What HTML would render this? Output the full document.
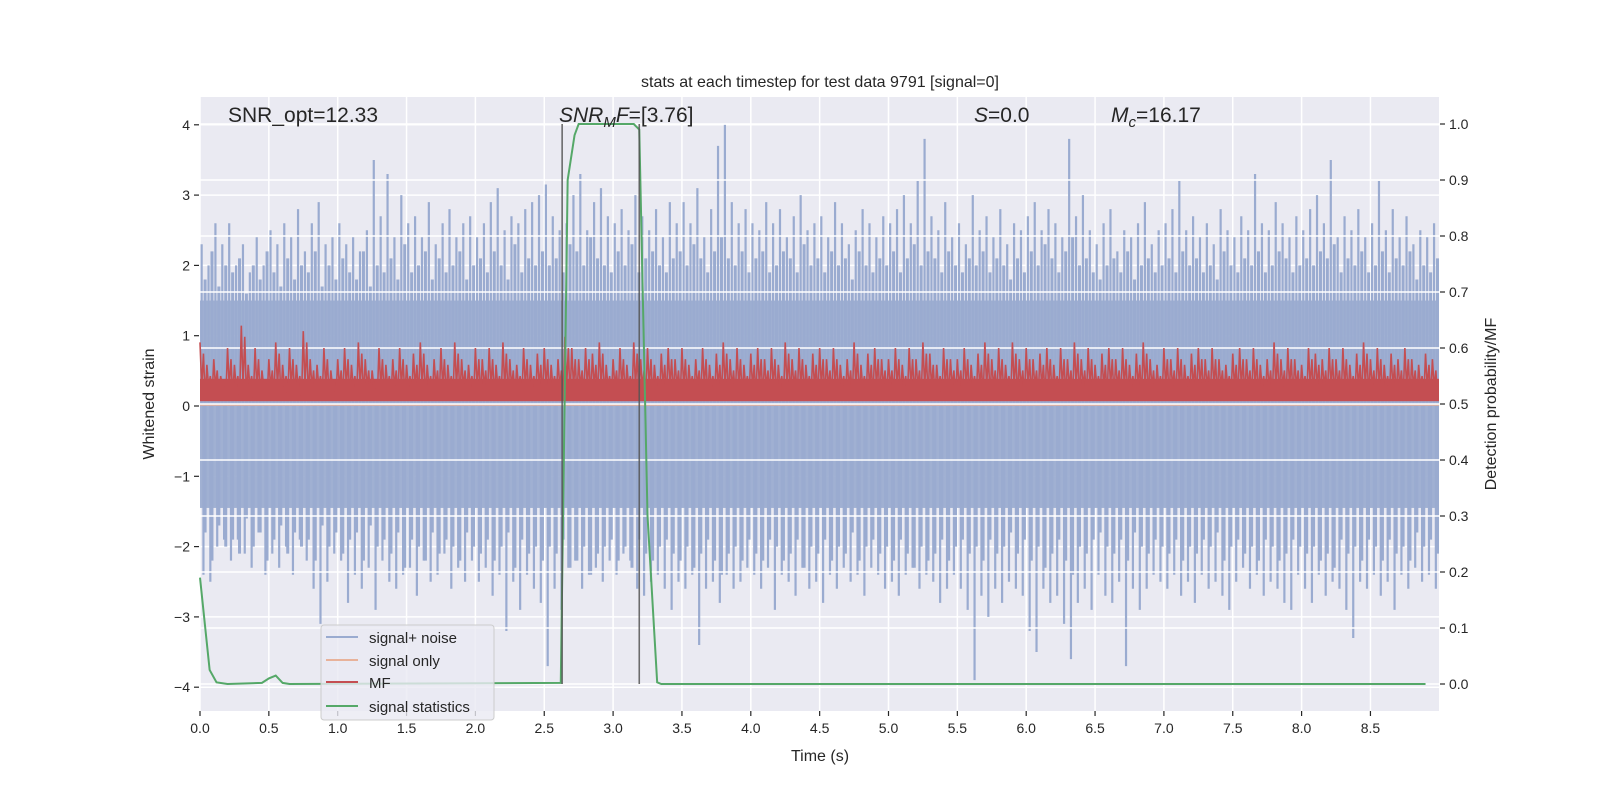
<!DOCTYPE html>
<html><head><meta charset="utf-8"><style>
html,body{margin:0;padding:0;background:#fff;}
svg{display:block;font-family:"Liberation Sans","DejaVu Sans",sans-serif;}
</style></head><body>
<svg id="chart" width="1600" height="800" viewBox="0 0 1600 800">
<rect x="0" y="0" width="1600" height="800" fill="#ffffff"/>
<rect x="200" y="97" width="1239" height="614" fill="#eaeaf2"/>
<g id="gridL"></g>
<g id="blue"></g>
<g id="gridR"></g>
<g id="red"></g>
<g id="green"></g>
<g id="vlines"></g>
<g id="axes"></g>
<text x="820" y="87" font-size="16" text-anchor="middle" fill="#262626">stats at each timestep for test data 9791 [signal=0]</text>
<text x="228" y="122" font-size="21" fill="#262626">SNR_opt=12.33</text>
<text x="559" y="122" font-size="21" fill="#262626"><tspan font-style="italic">SNR</tspan><tspan font-style="italic" font-size="15" dy="5">M</tspan><tspan font-style="italic" dy="-5">F</tspan>=[3.76]</text>
<text x="974" y="122" font-size="21" fill="#262626"><tspan font-style="italic">S</tspan>=0.0</text>
<text x="1111" y="122" font-size="21" fill="#262626"><tspan font-style="italic">M</tspan><tspan font-style="italic" font-size="15" dy="5">c</tspan><tspan dy="-5">=16.17</tspan></text>
<text x="820" y="761" font-size="16" text-anchor="middle" fill="#262626">Time (s)</text>
<text x="0" y="0" font-size="16" text-anchor="middle" fill="#262626" transform="translate(154,404) rotate(-90)">Whitened strain</text>
<text x="0" y="0" font-size="16" text-anchor="middle" fill="#262626" transform="translate(1496,404) rotate(-90)">Detection probability/MF</text>
<g>
<rect x="321" y="625" width="173" height="95" rx="3" fill="#eaeaf2" fill-opacity="0.8" stroke="#cccccc"/>
<line x1="326" y1="637" x2="358" y2="637" stroke="#9aabd0" stroke-width="2"/>
<text x="369" y="643" font-size="15" fill="#262626">signal+ noise</text>
<line x1="326" y1="660" x2="358" y2="660" stroke="#e8b29a" stroke-width="2"/>
<text x="369" y="666" font-size="15" fill="#262626">signal only</text>
<line x1="326" y1="682" x2="358" y2="682" stroke="#c44e52" stroke-width="2"/>
<text x="369" y="688" font-size="15" fill="#262626">MF</text>
<line x1="326" y1="706" x2="358" y2="706" stroke="#55a868" stroke-width="2"/>
<text x="369" y="712" font-size="15" fill="#262626">signal statistics</text>
</g>
</svg>
<script>
const step = 0.05;
const upperPeaks = [2.3,2.0,2.6,2.3,2.6,2.0,2.3,1.9,2.4,2.0,
2.5,2.3,2.6,2.4,2.8,2.2,2.6,2.9,2.3,2.4,
2.6,2.3,2.4,2.2,2.5,3.5,2.7,3.3,2.4,3.0,
2.6,2.7,2.4,2.9,2.3,2.6,2.8,2.4,2.6,2.7,
2.4,2.6,2.9,3.1,2.5,2.7,2.6,2.8,2.9,3.0,
3.15,2.7,2.5,2.6,3.0,3.3,2.5,2.9,3.1,2.7,
2.6,2.8,2.5,3.0,2.7,2.5,2.8,2.4,2.9,2.6,
2.9,2.6,3.1,2.4,2.8,3.7,4.0,2.9,2.6,2.8,
2.6,2.5,2.9,2.6,2.8,2.4,2.7,3.0,2.5,2.6,
2.7,2.4,2.9,2.6,2.3,2.5,2.8,2.6,2.4,2.7,
2.6,2.8,3.0,2.6,3.2,3.8,2.7,2.5,2.9,2.4,
2.6,2.3,3.0,2.5,2.7,2.4,2.8,2.3,2.6,2.5,
2.7,2.9,2.5,2.8,2.6,2.4,3.8,2.7,3.0,2.5,
2.3,2.6,2.8,2.2,2.5,2.4,2.6,2.9,2.3,2.5,
2.6,2.8,3.2,2.5,2.7,2.4,2.6,2.3,2.8,2.5,
2.4,2.7,2.5,3.3,2.6,2.5,2.9,2.6,2.4,2.7,
2.5,2.8,3.0,2.6,3.5,2.4,2.7,2.5,2.8,2.4,
2.6,3.2,2.5,2.8,2.4,2.7,2.3,2.5,2.4,2.6];
const upperMid = [1.8,2.2,1.7,2.0,1.9,2.1,1.6,2.0,1.8,2.2,
1.9,1.7,2.1,1.8,2.0,1.9,2.2,1.7,2.0,1.8,
2.1,1.9,1.8,2.2,1.7,2.0,1.9,2.1,1.8,2.3,
1.9,2.0,2.2,1.8,2.1,1.9,2.0,2.2,1.8,2.0,
2.1,1.9,2.2,2.0,1.8,2.3,1.9,2.1,2.0,2.2,
2.0,2.1,1.9,2.3,2.2,2.0,2.4,2.1,2.0,1.9,
2.2,2.0,2.3,1.9,2.1,2.2,2.0,1.9,2.1,2.2,
2.0,2.3,2.1,1.9,2.2,2.4,2.1,2.0,2.2,1.9,
2.1,2.2,1.9,2.0,2.2,2.1,1.9,2.3,2.0,2.1,
1.9,2.2,2.0,2.1,1.8,2.2,2.0,1.9,2.1,2.0,
2.2,1.9,2.1,2.3,2.0,2.2,2.1,1.9,2.2,2.0,
1.9,2.1,2.0,2.2,1.9,2.1,2.0,1.8,2.1,1.9,
2.2,2.0,2.3,2.1,1.9,2.2,2.4,2.0,2.1,1.9,
1.8,2.0,2.1,1.9,2.2,1.8,2.0,2.1,1.9,2.0,
2.1,1.9,2.2,2.0,2.1,1.9,2.0,1.8,2.2,2.0,
1.9,2.1,2.0,2.2,1.9,2.0,2.2,2.1,1.9,2.0,
2.1,2.0,2.2,2.1,2.3,1.9,2.1,2.0,2.2,1.9,
2.0,2.2,1.9,2.1,2.0,2.2,1.8,2.0,1.9,2.1];
const lowerPeaks = [-2.4,-2.5,-2.0,-1.9,-2.2,-1.9,-2.1,-2.3,-1.8,-2.4,
-2.1,-2.3,-2.0,-2.4,-1.9,-2.2,-2.6,-3.1,-2.5,-2.1,
-2.2,-2.8,-2.4,-2.6,-2.3,-2.9,-2.2,-2.5,-2.6,-2.4,
-2.3,-2.7,-2.2,-2.5,-2.4,-2.1,-2.6,-2.3,-2.5,-2.2,
-2.5,-2.3,-2.7,-2.4,-3.2,-2.5,-2.9,-2.4,-2.6,-2.8,
-3.7,-2.6,-2.9,-2.3,-2.2,-2.6,-2.4,-2.3,-2.5,-2.2,
-2.4,-2.1,-2.2,-2.6,-2.7,-2.5,-2.4,-2.6,-2.9,-2.5,
-2.6,-2.4,-3.4,-2.6,-2.5,-2.8,-2.4,-2.6,-2.5,-2.3,
-2.4,-2.6,-2.3,-2.9,-2.4,-2.5,-2.7,-2.3,-2.6,-2.5,
-2.8,-2.4,-2.6,-2.3,-2.5,-2.4,-2.7,-2.3,-2.4,-2.6,
-2.5,-2.7,-2.4,-2.3,-2.6,-2.4,-2.5,-2.8,-2.6,-2.4,
-2.6,-2.9,-3.9,-2.7,-3.0,-2.6,-2.8,-2.5,-2.6,-2.7,
-3.2,-3.5,-2.6,-2.8,-2.7,-3.1,-3.6,-2.8,-2.6,-2.9,
-2.4,-2.7,-2.8,-2.5,-3.7,-2.6,-2.9,-2.6,-2.4,-2.5,
-2.6,-2.4,-2.7,-2.5,-2.8,-2.4,-2.6,-2.5,-2.7,-2.9,
-2.5,-2.3,-2.6,-2.4,-2.7,-2.5,-2.6,-2.8,-2.9,-2.4,
-2.6,-2.8,-2.4,-2.7,-2.5,-2.6,-2.9,-3.3,-2.5,-2.6,
-2.4,-2.7,-2.5,-2.9,-2.4,-2.6,-2.3,-2.5,-2.4,-2.6];
const mfPeaks = [.61,.57,.58,.55,.60,.57,.64,.57,.60,.56,
.58,.61,.57,.60,.57,.63,.58,.57,.60,.56,
.58,.60,.57,.61,.58,.56,.60,.57,.58,.60,
.57,.59,.61,.57,.58,.60,.57,.61,.58,.57,
.60,.58,.60,.57,.61,.58,.57,.60,.57,.59,
.60,.57,.58,.62,.60,.58,.60,.59,.61,.57,
.58,.60,.57,.61,.58,.60,.57,.59,.60,.58,
.60,.57,.58,.60,.57,.59,.61,.58,.60,.57,
.59,.60,.58,.60,.57,.61,.58,.60,.57,.59,
.60,.58,.60,.57,.58,.61,.57,.59,.60,.58,
.58,.60,.57,.60,.58,.61,.59,.57,.60,.58,
.58,.60,.57,.59,.61,.58,.60,.57,.61,.58,
.60,.58,.59,.60,.57,.60,.58,.61,.58,.60,
.57,.59,.60,.58,.60,.57,.59,.61,.58,.57,
.60,.58,.60,.57,.59,.60,.58,.60,.58,.57,
.59,.60,.58,.60,.57,.58,.61,.58,.60,.58,
.57,.60,.59,.58,.60,.58,.60,.57,.59,.61,
.58,.60,.57,.59,.58,.60,.58,.57,.59,.58];
const statTimes = [0,0.07,0.12,0.2,0.45,0.5,0.55,0.6,0.65,2.62,2.67,2.72,2.75,3.1,3.15,3.19,3.25,3.32,3.35,8.9];
const statValues = [0.19,0.025,0.003,0.0,0.002,0.01,0.015,0.002,0.0,0.002,0.9,0.98,1.0,1.0,1.0,0.99,0.3,0.003,0.0,0.0];
const markerTimes = [2.63,3.19];
const xTicks = [0,0.5,1,1.5,2,2.5,3,3.5,4,4.5,5,5.5,6,6.5,7,7.5,8,8.5];
const yTicksL = [-4,-3,-2,-1,0,1,2,3,4];
const yTicksR = [0,0.1,0.2,0.3,0.4,0.5,0.6,0.7,0.8,0.9,1.0];

const NS='http://www.w3.org/2000/svg';
const X0=200,X1=1439,Y0=97,Y1=711;
const xs=t=>200+t*137.7;
const yL=v=>406-v*70.3;
const yR=v=>684-v*560;
function mk(tag,attrs,parent){const e=document.createElementNS(NS,tag);for(const k in attrs)e.setAttribute(k,attrs[k]);parent.appendChild(e);return e;}
const gL=document.getElementById('gridL'),gR=document.getElementById('gridR'),bl=document.getElementById('blue'),rd=document.getElementById('red'),gr=document.getElementById('green'),vl=document.getElementById('vlines'),ax=document.getElementById('axes');

xTicks.forEach(t=>{const l=mk('line',{x1:xs(t),x2:xs(t),y1:Y0,y2:Y1,stroke:'#fff','stroke-width':1.5},gL);


const tk=mk('line',{x1:xs(t),x2:xs(t),y1:Y1,y2:Y1+5,stroke:'#262626','stroke-width':1.2},ax);


const tx=mk('text',{x:xs(t),y:Y1+22,'font-size':14,'text-anchor':'middle',fill:'#262626'},ax);tx.textContent=t.toFixed(1);

});
yTicksL.forEach(v=>{const l=mk('line',{x1:X0,x2:X1,y1:yL(v),y2:yL(v),stroke:'#fff','stroke-width':1.5},gL);


const tk=mk('line',{x1:X0-6,x2:X0-1,y1:yL(v),y2:yL(v),stroke:'#262626','stroke-width':1.2},ax);


const tx=mk('text',{x:X0-10,y:yL(v)+5,'font-size':14,'text-anchor':'end',fill:'#262626'},ax);tx.textContent=v<0?'\u2212'+Math.abs(v):String(v);

});
yTicksR.forEach(v=>{const l=mk('line',{x1:X0,x2:X1,y1:yR(v),y2:yR(v),stroke:'#fff','stroke-width':1.5},gR);


const tk=mk('line',{x1:X1+1,x2:X1+6,y1:yR(v),y2:yR(v),stroke:'#262626','stroke-width':1.2},ax);


const tx=mk('text',{x:X1+10,y:yR(v)+5,'font-size':14,fill:'#262626'},ax);tx.textContent=v.toFixed(1);

});

// blue signal+noise
const body=mk('rect',{x:X0,y:yL(1.5),width:X1-X0,height:yL(-1.45)-yL(1.5),fill:'#9aabd0','fill-opacity':0.93},bl);


upperPeaks.forEach((v,i)=>{const t=i*step+0.012;
const s=mk('line',{x1:xs(t),x2:xs(t),y1:yL(0),y2:yL(v),stroke:'#9aabd0','stroke-width':2.2},bl);

});
upperMid.forEach((v,i)=>{const t=i*step+0.037;
const s=mk('line',{x1:xs(t),x2:xs(t),y1:yL(0),y2:yL(v),stroke:'#9aabd0','stroke-width':3},bl);


const s2=mk('line',{x1:xs(t),x2:xs(t),y1:yL(0),y2:yL(-v),stroke:'#9aabd0','stroke-width':3},bl);

});
lowerPeaks.forEach((v,i)=>{const t=i*step+0.025;
const s=mk('line',{x1:xs(t),x2:xs(t),y1:yL(0),y2:yL(v),stroke:'#9aabd0','stroke-width':2.2},bl);

});
const so=mk('line',{x1:X0,x2:X1,y1:yL(0)-1,y2:yL(0)-1,stroke:'#e8b29a','stroke-width':1.5},bl);



// red MF (right axis)
const rb=mk('rect',{x:X0,y:yR(0.545),width:X1-X0,height:yR(0.505)-yR(0.545),fill:'#c44e52'},rd);


let pts=[];mfPeaks.forEach((v,i)=>{const t=i*step;pts.push(xs(t)+','+yR(v));pts.push(xs(t+0.0125)+','+yR(0.53));pts.push(xs(t+0.025)+','+yR(v-0.02));pts.push(xs(t+0.0375)+','+yR(0.51));});
const rl=mk('polyline',{points:pts.join(' '),fill:'none',stroke:'#c44e52','stroke-width':1.6},rd);



// green stats
const gp=statTimes.map((t,i)=>xs(t)+','+yR(statValues[i])).join(' ');
const gl=mk('polyline',{points:gp,fill:'none',stroke:'#55a868','stroke-width':2},gr);



markerTimes.forEach(t=>{const l=mk('line',{x1:xs(t),x2:xs(t),y1:yR(1.0),y2:yR(0),stroke:'#555','stroke-opacity':0.85,'stroke-width':1.6},vl);

});
</script>
</body></html>
